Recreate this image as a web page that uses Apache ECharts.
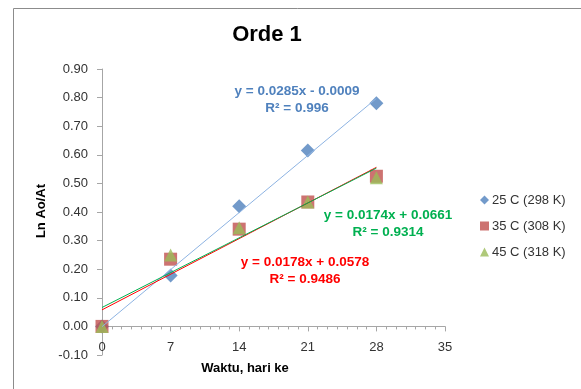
<!DOCTYPE html>
<html><head><meta charset="utf-8">
<script src="https://cdn.jsdelivr.net/npm/echarts@6/dist/echarts.min.js"></script>
<style>html,body{margin:0;padding:0;background:#fff}#c{width:581px;height:389px}</style>
</head><body><div id="c"></div>
<script>
var days = [0, 7, 14, 21, 28];
var s25 = [0.00, 0.178, 0.42, 0.615, 0.78];
var s35 = [0.00, 0.235, 0.34, 0.435, 0.525];
var s45 = [0.00, 0.25, 0.345, 0.435, 0.52];
var seriesNames = ['25 C (298 K)', '35 C (308 K)', '45 C (318 K)'];
// trendline endpoints: [x, y]
var trend25 = [[0, -0.0009], [28, 0.7971]];
var trend35 = [[0, 0.0578], [28, 0.5562]];
var trend45 = [[0, 0.0661], [28, 0.5533]];
var eq25 = ['y = 0.0285x - 0.0009', 'R² = 0.996'];
var eq35 = ['y = 0.0178x + 0.0578', 'R² = 0.9486'];
var eq45 = ['y = 0.0174x + 0.0661', 'R² = 0.9314'];
var xTicks = {min: 0, max: 35, interval: 7};
var yTicks = {min: -0.1, max: 0.9, interval: 0.1};

function pts(xs, ys){ return xs.map(function(x,i){ return [x, ys[i]]; }); }
var FONT = 'Liberation Sans';
var chart = echarts.init(document.getElementById('c'), null, {renderer:'canvas'});
var axisGray = '#a6a6a6';
var EQF = 'bold 13.5px ' + FONT;
chart.setOption({
  animation: false,
  textStyle: {fontFamily: FONT},
  grid: {left: 102, right: 136, top: 69, bottom: 34, containLabel: false},
  xAxis: {
    type: 'value', min: xTicks.min, max: xTicks.max, interval: xTicks.interval,
    axisLine: {onZero: true, lineStyle: {color: axisGray}},
    axisTick: {show: true, length: 5, lineStyle: {color: axisGray}},
    minorTick: {show: true, splitNumber: 7, length: 3, lineStyle: {color: axisGray}},
    splitLine: {show: false},
    axisLabel: {fontSize: 13, color: '#333', margin: -14, fontFamily: FONT}
  },
  yAxis: {
    type: 'value', min: yTicks.min, max: yTicks.max, interval: yTicks.interval,
    axisLine: {show: true, onZero: false, lineStyle: {color: axisGray}},
    axisTick: {show: true, length: 5, lineStyle: {color: axisGray}},
    splitLine: {show: false},
    axisLabel: {fontSize: 13, color: '#333', margin: 14, fontFamily: FONT,
      formatter: function(v){ return v.toFixed(2); }}
  },
  legend: {
    orient: 'vertical', left: 475, top: 188, itemWidth: 9, itemHeight: 9, itemGap: 12,
    data: [
      {name: seriesNames[0], icon: 'diamond'},
      {name: seriesNames[1], icon: 'rect'},
      {name: seriesNames[2], icon: 'triangle'}
    ],
    textStyle: {fontSize: 13, color: '#333', fontFamily: FONT, lineHeight: 14, padding: [0,0,0,-2]}
  },
  graphic: [
    {type: 'rect', left: 11, top: 6, shape: {width: 620, height: 420}, style: {fill: 'none', stroke: '#8c8c8c', lineWidth: 1}, silent: true},
    {type: 'text', x: 267, y: 35, style: {text: 'Orde 1', font: 'bold 22px ' + FONT, fill: '#000', align: 'center', verticalAlign: 'middle'}},
    {type: 'text', x: 41, y: 211, rotation: Math.PI/2, style: {text: 'Ln Ao/At', font: 'bold 13px ' + FONT, fill: '#000', align: 'center', verticalAlign: 'middle'}},
    {type: 'text', x: 245, y: 368, style: {text: 'Waktu, hari ke', font: 'bold 13px ' + FONT, fill: '#000', align: 'center', verticalAlign: 'middle'}},
    {type: 'text', x: 297, y: 91, style: {text: eq25[0], font: EQF, fill: '#4f81bd', align: 'center', verticalAlign: 'middle'}},
    {type: 'text', x: 297, y: 108, style: {text: eq25[1], font: EQF, fill: '#4f81bd', align: 'center', verticalAlign: 'middle'}},
    {type: 'text', x: 388, y: 215, style: {text: eq45[0], font: EQF, fill: '#00b050', align: 'center', verticalAlign: 'middle'}},
    {type: 'text', x: 388, y: 232, style: {text: eq45[1], font: EQF, fill: '#00b050', align: 'center', verticalAlign: 'middle'}},
    {type: 'text', x: 305, y: 262, style: {text: eq35[0], font: EQF, fill: '#ff0000', align: 'center', verticalAlign: 'middle'}},
    {type: 'text', x: 305, y: 279, style: {text: eq35[1], font: EQF, fill: '#ff0000', align: 'center', verticalAlign: 'middle'}}
  ],
  series: [
    {name: seriesNames[0], type: 'scatter', symbol: 'diamond', symbolSize: 14, data: pts(days, s25), itemStyle: {color: '#4f81bd'}, z: 2},
    {name: seriesNames[1], type: 'scatter', symbol: 'rect', symbolSize: 13, data: pts(days, s35), itemStyle: {color: '#c0504d'}, z: 3},
    {name: seriesNames[2], type: 'scatter', symbol: 'triangle', symbolSize: 13, data: pts(days, s45), itemStyle: {color: '#9bbb59'}, z: 4},
    {name: 't25', type: 'line', data: trend25, showSymbol: false, symbol: 'none', lineStyle: {color: '#8db3e2', width: 1}, z: 5, silent: true},
    {name: 't35', type: 'line', data: trend35, showSymbol: false, symbol: 'none', lineStyle: {color: '#ff0000', width: 1}, z: 5, silent: true},
    {name: 't45', type: 'line', data: trend45, showSymbol: false, symbol: 'none', lineStyle: {color: '#00b050', width: 1}, z: 5, silent: true}
  ]
});
</script></body></html>
